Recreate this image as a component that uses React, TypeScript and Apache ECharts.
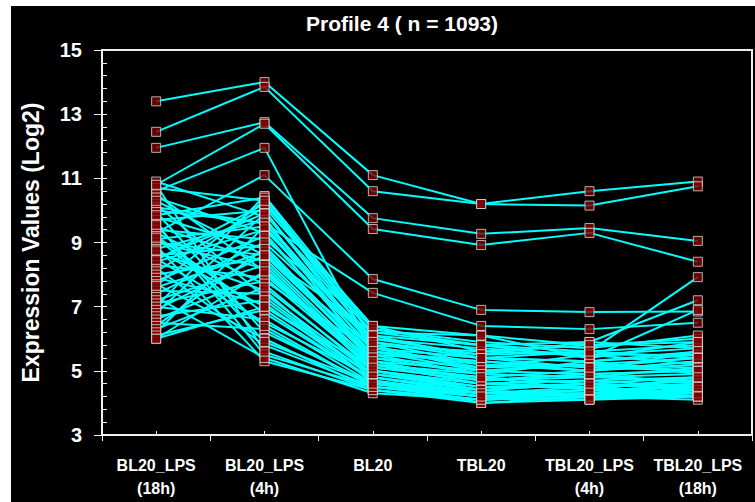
import React, { useEffect, useRef } from 'react';
import * as echarts from 'echarts';

const categories = ['BL20_LPS\n(18h)', 'BL20_LPS\n(4h)', 'BL20', 'TBL20', 'TBL20_LPS\n(4h)', 'TBL20_LPS\n(18h)'];
const titleText = 'Profile 4 ( n = 1093)';
const yName = 'Expression Values (Log2)';
const yMin = 3;
const yMax = 15;
const yStep = 2;
const yMinorStep = 0.4;

// Profiles standing out above the main bundle
const highProfiles: number[][] = [
  [13.4, 14.0, 11.1, 10.2, 10.6, 10.9],
  [12.45, 13.85, 10.6, 10.2, 10.15, 10.75],
  [11.95, 12.75, 9.76, 9.27, 9.45, 9.05],
  [10.8, 12.7, 9.42, 8.92, 9.3, 8.4],
  [10.6, 11.95, 5.6, 5.0, 5.2, 5.4],
  [9.3, 11.1, 7.86, 6.9, 6.83, 6.85],
  [10.0, 9.6, 7.43, 6.4, 6.3, 6.5],
  [7.0, 10.45, 6.3, 5.8, 5.6, 7.92],
  [8.5, 9.9, 6.0, 5.5, 5.9, 7.2],
  [9.0, 8.6, 6.2, 6.1, 5.4, 6.9],
];

// Main bundle of profiles
const bulkProfiles: number[][] = [
  [10.9, 9.8, 5.2, 4.6, 4.5, 4.7],
  [10.7, 10.3, 6.1, 5.4, 5.3, 5.6],
  [10.5, 8.1, 5.0, 4.4, 4.6, 4.4],
  [10.4, 9.3, 5.5, 4.9, 4.8, 5.1],
  [10.2, 7.3, 4.8, 4.3, 4.2, 4.5],
  [10.1, 9.6, 5.9, 5.2, 5.0, 5.3],
  [9.95, 6.2, 4.6, 4.2, 4.3, 4.2],
  [9.8, 8.8, 5.3, 4.7, 4.9, 4.6],
  [9.7, 10.0, 5.7, 5.1, 5.5, 5.2],
  [9.6, 5.5, 4.5, 4.1, 4.2, 4.3],
  [9.5, 8.4, 5.1, 4.8, 4.4, 4.8],
  [9.4, 9.1, 6.4, 5.6, 5.8, 6.0],
  [9.3, 7.7, 4.9, 4.5, 4.6, 4.4],
  [9.2, 6.8, 4.7, 4.0, 4.1, 4.2],
  [9.1, 9.5, 5.6, 5.3, 5.1, 5.4],
  [9.0, 8.2, 5.0, 4.6, 4.7, 4.5],
  [8.9, 5.3, 4.4, 4.1, 4.3, 4.2],
  [8.8, 9.7, 5.8, 5.0, 5.2, 5.0],
  [8.7, 7.5, 4.6, 4.4, 4.2, 4.6],
  [8.6, 8.9, 5.4, 4.9, 5.3, 4.9],
  [8.5, 6.5, 4.8, 4.3, 4.5, 4.3],
  [8.4, 9.4, 6.0, 5.7, 5.5, 5.7],
  [8.3, 7.9, 5.1, 4.7, 4.8, 4.7],
  [8.2, 5.8, 4.5, 4.2, 4.1, 4.4],
  [8.1, 10.1, 6.3, 5.9, 5.7, 6.1],
  [8.0, 8.5, 5.2, 4.8, 5.0, 5.2],
  [7.9, 7.1, 4.7, 4.3, 4.4, 4.5],
  [7.8, 9.2, 5.7, 5.4, 5.3, 5.5],
  [7.7, 6.0, 4.4, 4.0, 4.2, 4.1],
  [7.6, 8.7, 5.3, 5.0, 4.9, 5.0],
  [7.5, 7.4, 4.9, 4.5, 4.5, 4.6],
  [7.4, 9.0, 5.9, 5.5, 5.6, 5.8],
  [7.3, 5.4, 4.3, 4.1, 4.2, 4.2],
  [7.2, 8.3, 5.0, 4.6, 4.7, 4.8],
  [7.1, 7.8, 5.6, 5.2, 5.0, 5.3],
  [7.0, 6.6, 4.6, 4.3, 4.3, 4.4],
  [6.9, 8.6, 5.4, 5.1, 5.2, 5.1],
  [6.8, 9.9, 6.2, 5.8, 5.4, 5.9],
  [6.7, 7.2, 4.8, 4.4, 4.6, 4.5],
  [6.6, 8.0, 5.2, 4.9, 4.8, 4.9],
  [6.5, 6.3, 4.5, 4.2, 4.4, 4.3],
  [6.4, 8.8, 5.5, 5.3, 5.0, 5.6],
  [6.3, 7.6, 5.0, 4.5, 4.5, 4.7],
  [6.2, 9.5, 5.8, 5.6, 5.5, 5.5],
  [6.1, 6.9, 4.7, 4.2, 4.3, 4.6],
  [6.0, 8.1, 5.3, 4.7, 4.9, 5.0],
  [6.0, 7.0, 4.9, 4.4, 4.2, 4.4],
  [10.8, 5.6, 4.4, 4.1, 4.2, 4.3],
  [10.3, 8.6, 5.7, 5.4, 5.1, 5.0],
  [9.85, 10.4, 6.1, 5.8, 5.9, 5.7],
  [9.15, 6.4, 4.5, 4.3, 4.4, 4.2],
  [8.45, 10.2, 6.4, 6.1, 5.8, 5.9],
  [7.65, 10.3, 5.9, 5.4, 5.6, 5.4],
  [9.55, 5.9, 4.6, 4.2, 4.1, 4.5],
  [8.75, 7.0, 5.1, 4.8, 4.6, 4.8],
];

const FONT = "'Liberation Sans', Arial, sans-serif";
const AXIS_COLOR = '#eeeeee';

export default function App() {
  const ref = useRef<HTMLDivElement>(null);

  useEffect(() => {
    if (!ref.current) return;
    const chart = echarts.init(ref.current, null, { renderer: 'svg' });
    const all = [...highProfiles, ...bulkProfiles];

    const lineSeries = all.map((p) => ({
      type: 'line',
      data: p.map((v) => v - yMin),
      showSymbol: false,
      symbol: 'none',
      silent: true,
      z: 2,
      lineStyle: { color: '#00ffff', width: 2 },
    }));

    const points: number[][] = [];
    all.forEach((p) => p.forEach((v, i) => points.push([i, v - yMin])));

    chart.setOption({
      animation: false,
      backgroundColor: '#000000',
      grid: {
        left: 86,
        top: 44,
        right: 3,
        bottom: 67,
        show: true,
        borderColor: AXIS_COLOR,
        borderWidth: 2,
        backgroundColor: 'transparent',
      },
      graphic: [
        {
          type: 'text',
          x: 391,
          y: 17,
          style: {
            text: titleText,
            fill: '#ffffff',
            font: `bold 21px ${FONT}`,
            textAlign: 'center',
            textVerticalAlign: 'middle',
          },
        },
      ],
      xAxis: [
        {
          type: 'category',
          data: categories,
          position: 'bottom',
          boundaryGap: true,
          axisLine: { show: true, lineStyle: { color: AXIS_COLOR, width: 2 } },
          axisTick: { show: true, length: 6, lineStyle: { color: AXIS_COLOR, width: 1 } },
          axisLabel: {
            color: '#ffffff',
            fontFamily: FONT,
            fontWeight: 'bold',
            fontSize: 16,
            lineHeight: 23,
            margin: 19,
            interval: 0,
          },
          splitLine: { show: false },
        },
        {
          type: 'category',
          data: categories,
          position: 'bottom',
          boundaryGap: true,
          axisLine: { show: false },
          axisTick: { show: true, alignWithLabel: true, inside: true, length: 4, lineStyle: { color: AXIS_COLOR } },
          axisLabel: { show: false },
          splitLine: { show: false },
        },
      ],
      yAxis: [
        {
          type: 'value',
          position: 'left',
          min: 0,
          max: yMax - yMin,
          interval: yStep,
          name: yName,
          nameLocation: 'middle',
          nameRotate: 90,
          nameGap: 60,
          nameTextStyle: { color: '#ffffff', fontSize: 23, fontWeight: 'bold', fontFamily: FONT },
          axisLine: { show: true, lineStyle: { color: AXIS_COLOR, width: 2 } },
          axisTick: { show: true, length: 8, lineStyle: { color: AXIS_COLOR } },
          axisLabel: {
            color: '#ffffff',
            fontFamily: FONT,
            fontWeight: 'bold',
            fontSize: 20,
            margin: 20,
            formatter: (v: number) => String(Math.round(v + yMin)),
          },
          splitLine: { show: false },
        },
        {
          type: 'value',
          position: 'left',
          min: 0,
          max: yMax - yMin,
          interval: yMinorStep,
          axisLine: { show: false },
          axisTick: { show: true, inside: true, length: 5, lineStyle: { color: AXIS_COLOR } },
          axisLabel: { show: false },
          splitLine: { show: false },
        },
      ],
      series: [
        ...lineSeries,
        {
          type: 'scatter',
          data: points,
          symbol: 'rect',
          symbolSize: 9,
          silent: true,
          z: 5,
          itemStyle: { color: '#7d0000', borderColor: '#d9d9d9', borderWidth: 1 },
        },
      ],
    });

    return () => chart.dispose();
  }, []);

  return (
    <div style={{ position: 'absolute', left: 0, top: 0, width: 755, height: 502, background: '#ffffff' }}>
      <div ref={ref} style={{ position: 'absolute', left: 11, top: 6, width: 744, height: 496 }} />
    </div>
  );
}
